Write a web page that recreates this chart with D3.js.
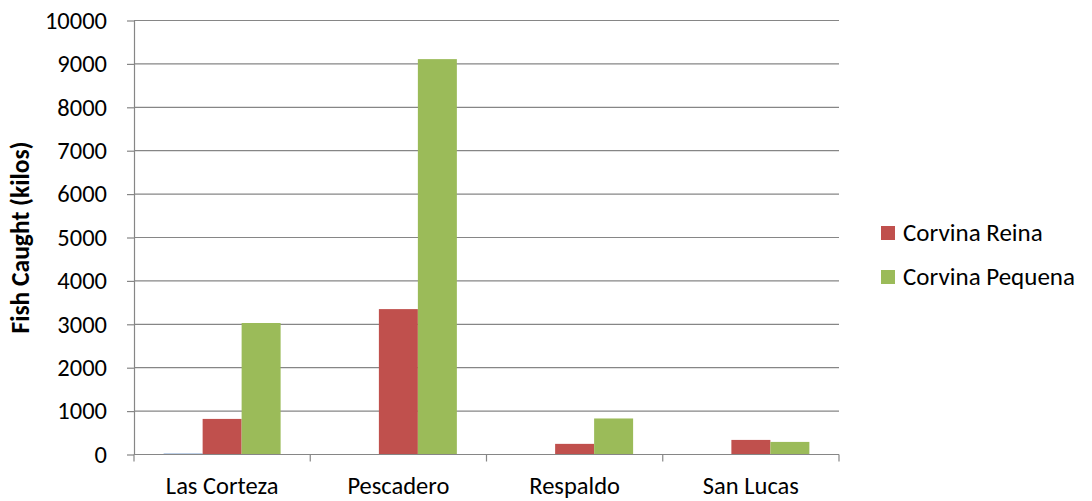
<!DOCTYPE html>
<html>
<head>
<meta charset="utf-8">
<script src="https://cdn.jsdelivr.net/npm/d3@7"></script>
<style>
  html, body { margin: 0; padding: 0; background: #fff; }
  svg { display: block; font-family: Carlito, Lato, sans-serif; }
</style>
</head>
<body>
<svg id="chart" width="1092" height="501"></svg>
<script>
// Catch by fishing site, in kilos
const sites = ["Las Corteza", "Pescadero", "Respaldo", "San Lucas"];
const seriesNames = ["", "Corvina Reina", "Corvina Pequena"];
const seriesColors = ["#4F81BD", "#C0504D", "#9BBB59"];
const otherCatch = [20, 0, 0, 0];
const reinaCatch = [820, 3350, 245, 336];
const pequenaCatch = [3030, 9110, 830, 290];
const yTicks = [0, 1000, 2000, 3000, 4000, 5000, 6000, 7000, 8000, 9000, 10000];

const seriesValues = [otherCatch, reinaCatch, pequenaCatch];

const svg = d3.select("#chart");
const plot = { left: 134, right: 839, top: 20.5, bottom: 454.5 };
const fontFamily = "Carlito, Lato, sans-serif";
const fontSize = "24.5px";

const x0 = d3.scaleBand().domain(sites).range([plot.left, plot.right]).paddingInner(0).paddingOuter(0);
const x1 = d3.scaleBand().domain(d3.range(seriesValues.length)).range([0, x0.bandwidth()]).paddingInner(0).paddingOuter(0.76);
const y = d3.scaleLinear().domain([0, 10000]).range([plot.bottom, plot.top]);

const gridColor = "#868686";

// horizontal gridlines
svg.append("g").selectAll("line").data(yTicks.slice(1)).join("line")
  .attr("x1", plot.left).attr("x2", plot.right)
  .attr("y1", d => y(d)).attr("y2", d => y(d))
  .attr("stroke", gridColor).attr("stroke-width", 1.2);

// bars
const groups = svg.append("g").selectAll("g").data(sites).join("g")
  .attr("transform", d => `translate(${x0(d)},0)`);
groups.selectAll("rect")
  .data((site, i) => seriesValues.map((vals, s) => ({ s, v: vals[i] })))
  .join("rect")
  .attr("x", d => x1(d.s))
  .attr("width", x1.bandwidth())
  .attr("y", d => y(d.v))
  .attr("height", d => plot.bottom - y(d.v))
  .attr("fill", d => seriesColors[d.s]);

// y axis
const yAxis = svg.append("g").attr("transform", `translate(${plot.left},0)`)
  .call(d3.axisLeft(y).tickValues(yTicks).tickFormat(d3.format("d"))
    .tickSize(7).tickPadding(20).tickSizeOuter(0));
yAxis.select(".domain").attr("stroke", gridColor).attr("stroke-width", 1.2);
yAxis.selectAll(".tick line").attr("stroke", gridColor).attr("stroke-width", 1.2);
yAxis.selectAll(".tick text").attr("fill", "#000")
  .style("font-size", fontSize).style("font-family", fontFamily);

// x axis with ticks at category boundaries
const xAxisG = svg.append("g");
xAxisG.append("line")
  .attr("x1", plot.left).attr("x2", plot.right)
  .attr("y1", plot.bottom).attr("y2", plot.bottom)
  .attr("stroke", gridColor).attr("stroke-width", 1.2);
const boundaries = sites.map(s => x0(s)).concat([x0(sites[sites.length - 1]) + x0.bandwidth()]);
xAxisG.selectAll("line.b").data(boundaries).join("line").attr("class", "b")
  .attr("x1", d => d).attr("x2", d => d)
  .attr("y1", plot.bottom).attr("y2", plot.bottom + 7)
  .attr("stroke", gridColor).attr("stroke-width", 1.2);
xAxisG.selectAll("text").data(sites).join("text")
  .attr("x", d => x0(d) + x0.bandwidth() / 2)
  .attr("y", 494)
  .attr("text-anchor", "middle")
  .style("font-size", fontSize)
  .text(d => d);

// y axis title
svg.append("text")
  .attr("transform", `translate(29,${(plot.top + plot.bottom) / 2}) rotate(-90)`)
  .attr("text-anchor", "middle")
  .style("font-size", "25.5px")
  .style("font-weight", "bold")
  .text("Fish Caught (kilos)");

// legend
const legend = svg.append("g").selectAll("g").data([1, 2]).join("g")
  .attr("transform", (d, i) => `translate(881,${226 + i * 44})`);
legend.append("rect").attr("width", 14).attr("height", 14).attr("fill", d => seriesColors[d]);
legend.append("text").attr("x", 22).attr("y", 15).style("font-size", "25px").text(d => seriesNames[d]);
</script>
</body>
</html>
